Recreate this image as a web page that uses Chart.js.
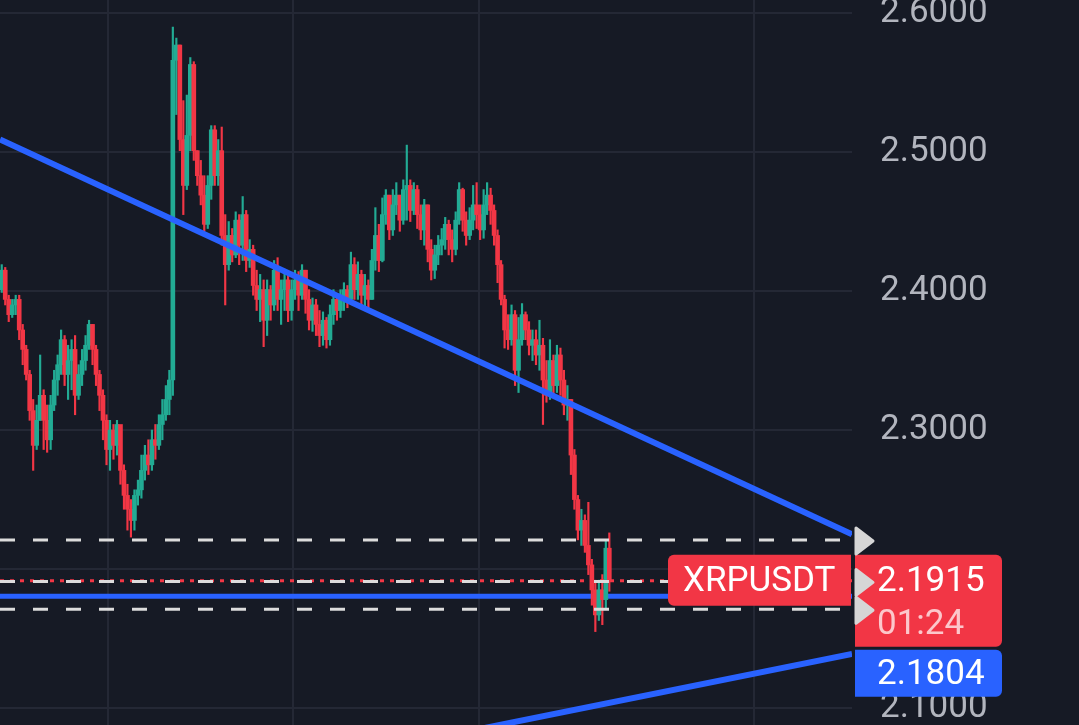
<!DOCTYPE html>
<html>
<head>
<meta charset="utf-8">
<script src="https://cdn.jsdelivr.net/npm/chart.js@4.4.1/dist/chart.umd.min.js"></script>
<style>
  html, body { margin: 0; padding: 0; background: #161a25; }
  #wrap { width: 1079px; height: 725px; position: relative; }
</style>
</head>
<body>
<div id="wrap"><canvas id="chart"></canvas></div>
<script>
// XRPUSDT candles, left to right.
// Each candle opens where the previous one closed.
const firstOpen = 2.401;
const closes = [
  2.415, 2.394, 2.383, 2.390, 2.394, 2.372, 2.358, 2.340, 2.314, 2.289,
  2.307, 2.325, 2.307, 2.293, 2.318, 2.336, 2.347, 2.365, 2.340, 2.350,
  2.358, 2.325, 2.340, 2.350, 2.361, 2.376, 2.358, 2.340, 2.325, 2.307,
  2.286, 2.300, 2.289, 2.304, 2.271, 2.253, 2.243, 2.235, 2.253, 2.257,
  2.271, 2.282, 2.275, 2.293, 2.289, 2.304, 2.311, 2.322, 2.336, 2.566,
  2.577, 2.509, 2.476, 2.512, 2.563, 2.501, 2.483, 2.469, 2.448, 2.476,
  2.516, 2.483, 2.501, 2.440, 2.419, 2.440, 2.426, 2.451, 2.433, 2.455,
  2.422, 2.430, 2.404, 2.394, 2.401, 2.379, 2.401, 2.390, 2.415, 2.394,
  2.401, 2.408, 2.386, 2.401, 2.408, 2.397, 2.415, 2.394, 2.379, 2.390,
  2.376, 2.368, 2.379, 2.365, 2.383, 2.394, 2.386, 2.394, 2.401, 2.394,
  2.419, 2.401, 2.412, 2.397, 2.404, 2.394, 2.422, 2.440, 2.422, 2.455,
  2.469, 2.444, 2.462, 2.469, 2.451, 2.473, 2.476, 2.458, 2.473, 2.455,
  2.444, 2.462, 2.430, 2.415, 2.426, 2.433, 2.437, 2.448, 2.437, 2.430,
  2.451, 2.473, 2.451, 2.440, 2.451, 2.462, 2.455, 2.444, 2.462, 2.469,
  2.458, 2.440, 2.419, 2.394, 2.372, 2.365, 2.383, 2.343, 2.365, 2.383,
  2.372, 2.361, 2.365, 2.354, 2.361, 2.336, 2.325, 2.350, 2.332, 2.354,
  2.336, 2.318, 2.322, 2.282, 2.250, 2.228, 2.235, 2.217, 2.203, 2.185,
  2.167, 2.185, 2.178, 2.215, 2.1915
];
const highs = [
  2.419, 2.417, 2.397, 2.394, 2.397, 2.397, 2.376, 2.361, 2.343, 2.322,
  2.318, 2.354, 2.329, 2.318, 2.325, 2.343, 2.354, 2.372, 2.368, 2.361,
  2.365, 2.368, 2.347, 2.358, 2.368, 2.379, 2.376, 2.361, 2.343, 2.329,
  2.311, 2.307, 2.304, 2.307, 2.300, 2.275, 2.261, 2.250, 2.257, 2.264,
  2.282, 2.289, 2.293, 2.300, 2.304, 2.311, 2.322, 2.332, 2.343, 2.590,
  2.582, 2.577, 2.537, 2.541, 2.568, 2.565, 2.501, 2.494, 2.483, 2.483,
  2.519, 2.519, 2.509, 2.518, 2.455, 2.450, 2.445, 2.457, 2.455, 2.468,
  2.458, 2.437, 2.433, 2.415, 2.412, 2.408, 2.408, 2.404, 2.422, 2.424,
  2.408, 2.415, 2.412, 2.408, 2.415, 2.414, 2.419, 2.415, 2.401, 2.395,
  2.394, 2.386, 2.385, 2.381, 2.390, 2.401, 2.397, 2.401, 2.406, 2.404,
  2.428, 2.424, 2.421, 2.415, 2.412, 2.408, 2.430, 2.460, 2.448, 2.467,
  2.473, 2.469, 2.473, 2.478, 2.469, 2.480, 2.505, 2.480, 2.478, 2.476,
  2.462, 2.466, 2.462, 2.437, 2.433, 2.440, 2.445, 2.453, 2.451, 2.444,
  2.457, 2.478, 2.474, 2.457, 2.460, 2.476, 2.478, 2.462, 2.473, 2.478,
  2.474, 2.462, 2.444, 2.422, 2.397, 2.383, 2.390, 2.386, 2.381, 2.391,
  2.385, 2.378, 2.372, 2.372, 2.379, 2.366, 2.350, 2.365, 2.354, 2.361,
  2.359, 2.343, 2.332, 2.322, 2.286, 2.253, 2.243, 2.239, 2.248, 2.207,
  2.192, 2.192, 2.196, 2.221, 2.226
];
const lows = [
  2.399, 2.390, 2.378, 2.381, 2.383, 2.365, 2.347, 2.336, 2.307, 2.271,
  2.286, 2.307, 2.286, 2.284, 2.286, 2.314, 2.325, 2.340, 2.332, 2.322,
  2.329, 2.311, 2.322, 2.332, 2.343, 2.358, 2.347, 2.332, 2.314, 2.293,
  2.275, 2.271, 2.279, 2.282, 2.261, 2.243, 2.228, 2.223, 2.228, 2.246,
  2.251, 2.264, 2.268, 2.271, 2.279, 2.286, 2.293, 2.307, 2.311, 2.325,
  2.527, 2.501, 2.455, 2.473, 2.501, 2.494, 2.476, 2.462, 2.443, 2.445,
  2.466, 2.476, 2.476, 2.433, 2.390, 2.415, 2.421, 2.424, 2.419, 2.422,
  2.414, 2.417, 2.397, 2.386, 2.378, 2.360, 2.368, 2.379, 2.386, 2.386,
  2.376, 2.386, 2.378, 2.379, 2.394, 2.386, 2.394, 2.384, 2.372, 2.371,
  2.368, 2.360, 2.361, 2.359, 2.361, 2.376, 2.379, 2.381, 2.386, 2.388,
  2.392, 2.394, 2.394, 2.390, 2.388, 2.388, 2.394, 2.415, 2.414, 2.421,
  2.448, 2.437, 2.440, 2.455, 2.443, 2.448, 2.451, 2.450, 2.455, 2.445,
  2.437, 2.433, 2.421, 2.408, 2.409, 2.419, 2.426, 2.430, 2.426, 2.421,
  2.426, 2.448, 2.443, 2.433, 2.437, 2.444, 2.445, 2.437, 2.438, 2.455,
  2.448, 2.433, 2.406, 2.390, 2.359, 2.358, 2.361, 2.332, 2.327, 2.361,
  2.365, 2.354, 2.350, 2.347, 2.343, 2.304, 2.320, 2.322, 2.325, 2.327,
  2.325, 2.311, 2.307, 2.268, 2.243, 2.221, 2.217, 2.212, 2.196, 2.174,
  2.155, 2.163, 2.160, 2.171, 2.184
];

// drawn levels and trend lines (x = candle slot, y = price)
const lastPrice = 2.1915;
const blueLevel = 2.1804;
const dashedLevels = [2.2209, 2.1911, 2.1711];
const trendDown = [[-0.5, 2.509], [243.5, 2.225]];
const trendUp = [[137, 2.085], [243.5, 2.139]];

// axis ranges and grid
const xMin = -0.5, xMax = 243.5;
const yMin = 2.0878, yMax = 2.6094;
const gridX = [30.4, 83.4, 136.7, 215.4];
const countdown = '01:24';
const symbol = 'XRPUSDT';

const upColor = '#22ab94';
const downColor = '#f23645';
const blue = '#2962ff';
const gridColor = '#242835';
const font = 'Roboto';

const opens = closes.map((c, i) => i === 0 ? firstOpen : closes[i - 1]);
const candleColors = closes.map((c, i) => c >= opens[i] ? upColor : downColor);

function segment(points) {
  return points.map(([x, y]) => ({ x: x, y: y }));
}

function lineSet(data, color, width, dash, order) {
  return {
    type: 'line', data: data, borderColor: color, borderWidth: width,
    borderDash: dash, borderCapStyle: 'butt', pointRadius: 0, order: order
  };
}

const datasets = [];
dashedLevels.forEach(v => {
  datasets.push(lineSet(segment([[xMin, v], [xMax, v]]), '#dcdcdc', 3, [15, 18], 0));
});
datasets.push(lineSet(segment(trendDown), blue, 6, [], 1));
datasets.push(lineSet(segment(trendUp), blue, 6, [], 1));
datasets.push(lineSet(segment([[xMin, lastPrice], [xMax, lastPrice]]), downColor, 3, [4, 6], 2));
// candle bodies and wicks
datasets.push({
  type: 'bar', data: closes.map((c, i) => ({ x: i, y: [opens[i], c] })),
  backgroundColor: candleColors, barThickness: 4, grouped: false, order: 3
});
datasets.push({
  type: 'bar', data: closes.map((c, i) => ({ x: i, y: [lows[i], highs[i]] })),
  backgroundColor: candleColors, barThickness: 1.5, grouped: false, order: 4
});
datasets.push(lineSet(segment([[xMin, blueLevel], [xMax, blueLevel]]), blue, 5, [], 5));

// background, price tags and markers on the right axis
const overlay = {
  id: 'overlay',
  beforeDraw(chart) {
    const ctx = chart.ctx;
    ctx.save();
    ctx.fillStyle = '#161a25';
    ctx.fillRect(0, 0, chart.width, chart.height);
    ctx.restore();
  },
  afterDraw(chart) {
    const ctx = chart.ctx;
    const a = chart.chartArea;
    const y = chart.scales.y;
    const py = y.getPixelForValue(lastPrice);
    ctx.save();
    ctx.font = '35px ' + font;
    ctx.textBaseline = 'middle';

    // symbol tag at the end of the price line
    ctx.fillStyle = downColor;
    ctx.beginPath();
    ctx.roundRect(a.right - 184, py - 26, 183, 51, [6, 0, 0, 6]);
    ctx.fill();
    ctx.fillStyle = '#ffffff';
    ctx.textAlign = 'left';
    ctx.fillText(symbol, a.right - 169, py + 1);

    // last price + countdown
    ctx.fillStyle = downColor;
    ctx.beginPath();
    ctx.roundRect(a.right + 3, py - 26, 147, 92, [0, 6, 6, 0]);
    ctx.fill();
    ctx.fillStyle = '#ffffff';
    ctx.fillText(lastPrice.toFixed(4), a.right + 25, py + 1);
    ctx.fillStyle = 'rgba(255,255,255,0.72)';
    ctx.fillText(countdown, a.right + 25, py + 44);

    // blue level tag, pushed below the red one
    ctx.fillStyle = blue;
    ctx.beginPath();
    ctx.roundRect(a.right + 3, py + 69, 147, 47, [0, 6, 6, 0]);
    ctx.fill();
    ctx.fillStyle = '#ffffff';
    ctx.fillText(blueLevel.toFixed(4), a.right + 25, py + 94);

    // grey markers for the dashed levels
    ctx.fillStyle = '#d6d6d6';
    ctx.strokeStyle = '#d6d6d6';
    ctx.lineJoin = 'round';
    ctx.lineWidth = 3;
    dashedLevels.forEach(v => {
      const my = y.getPixelForValue(v) + 1;
      ctx.beginPath();
      ctx.moveTo(a.right + 4, my - 13);
      ctx.lineTo(a.right + 21, my);
      ctx.lineTo(a.right + 4, my + 13);
      ctx.closePath();
      ctx.fill();
      ctx.stroke();
    });
    ctx.restore();
  }
};

new Chart(document.getElementById('chart'), {
  type: 'bar',
  data: { datasets: datasets },
  options: {
    responsive: true,
    maintainAspectRatio: false,
    animation: false,
    events: [],
    layout: { padding: 0 },
    plugins: { legend: { display: false }, tooltip: { enabled: false } },
    scales: {
      x: {
        type: 'linear', min: xMin, max: xMax, offset: false,
        ticks: { display: false },
        grid: { color: gridColor, lineWidth: 2, drawTicks: false, offset: false },
        border: { display: false },
        afterBuildTicks: s => { s.ticks = gridX.map(v => ({ value: v })); }
      },
      y: {
        position: 'right', min: yMin, max: yMax,
        ticks: {
          stepSize: 0.1, includeBounds: false, padding: 28, color: '#b2b5be',
          font: { family: font, size: 35 },
          // labels hidden behind the last-price tag are left out, as on the platform
          callback: v => Math.abs(v - lastPrice) < 0.02 ? '' : Number(v).toFixed(4)
        },
        grid: { color: gridColor, lineWidth: 2, drawTicks: false },
        border: { display: false },
        afterFit: s => { s.width = 227; s.paddingTop = 0; s.paddingBottom = 0; }
      }
    }
  },
  plugins: [overlay]
});
</script>
</body>
</html>
